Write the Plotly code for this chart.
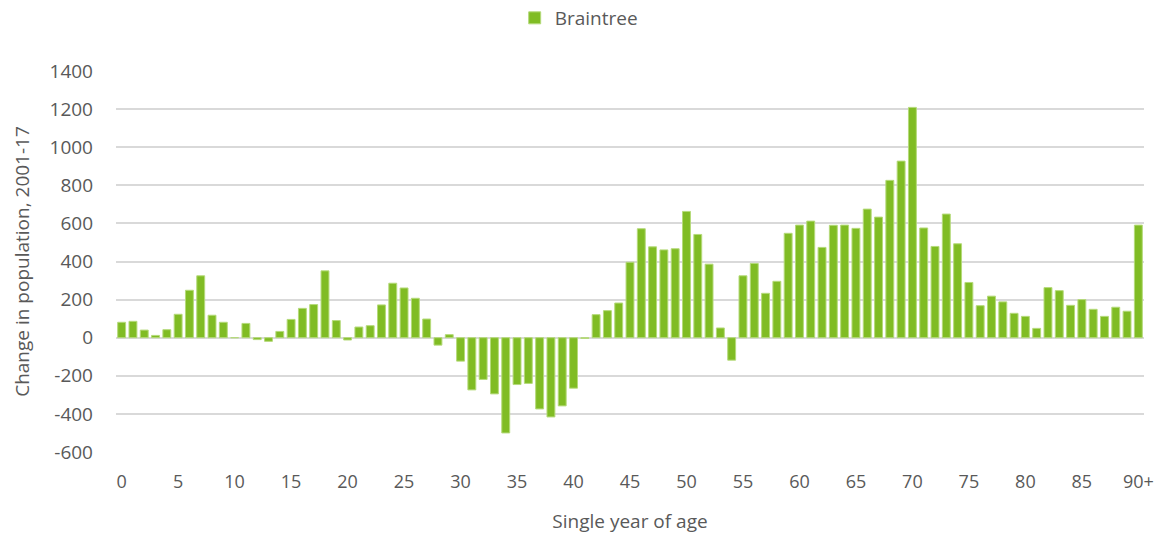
import plotly.graph_objects as go

ages = [str(i) for i in range(90)] + ["90+"]
values = [81, 86, 40, 12, 42, 123, 249, 325, 118, 81,
          0, 75, -10, -19, 33, 96, 154, 174, 351, 90,
          -12, 56, 63, 172, 286, 261, 207, 98, -39, 16,
          -123, -274, -219, -295, -500, -246, -240, -374, -416, -358,
          -265, -4, 121, 142, 182, 396, 572, 477, 461, 467,
          663, 542, 386, 51, -118, 325, 390, 233, 296, 548,
          591, 612, 474, 590, 591, 574, 675, 633, 826, 927,
          1209, 576, 479, 649, 493, 290, 168, 218, 188, 128,
          112, 49, 263, 247, 170, 200, 149, 112, 160, 139,
          591]
tick_labels = [str(i) for i in range(0, 90, 5)] + ["90+"]
y_ticks = list(range(-600, 1401, 200))
y_tick_text = [str(v) for v in y_ticks]

font_family = "Open Sans, Noto Sans, sans-serif"
text_color = "#595959"

fig = go.Figure()
fig.add_trace(go.Bar(
    x=ages, y=values, name="Braintree",
    marker=dict(color="#80BC24", line=dict(color="#B5DA7A", width=1)),
))

fig.update_layout(
    width=1162, height=536,
    margin=dict(l=116, r=18, t=71, b=84, autoexpand=False),
    paper_bgcolor="white", plot_bgcolor="white",
    bargap=0.3,
    showlegend=True,
    legend=dict(orientation="h", x=0.498, xanchor="center", xref="container",
                y=1 - 18 / 536, yanchor="middle", yref="container",
                itemwidth=30,
                font=dict(family=font_family, size=19, color=text_color)),
    font=dict(family=font_family, color=text_color),
)
fig.update_xaxes(
    type="category", tickmode="array", tickvals=tick_labels, ticktext=tick_labels,
    tickfont=dict(size=18, color=text_color), showgrid=False, showline=False,
    ticks="", ticklabelstandoff=17, automargin=False,
    title=dict(text="Single year of age", font=dict(size=19, color=text_color), standoff=22),
)
fig.update_yaxes(
    range=[-600, 1400], tickmode="array", tickvals=y_ticks, ticktext=y_tick_text,
    tickfont=dict(size=19, color=text_color),
    showgrid=True, gridcolor="#D9D9D9", gridwidth=1.5, zeroline=True, zerolinecolor="#D9D9D9",
    zerolinewidth=1.5, ticks="", ticklabelstandoff=22, automargin=False,
    title=dict(text="Change in population, 2001-17", font=dict(size=19, color=text_color), standoff=14),
)

fig.write_html("out.html", config={"displayModeBar": False},
               post_script="document.body.style.margin='0';")
